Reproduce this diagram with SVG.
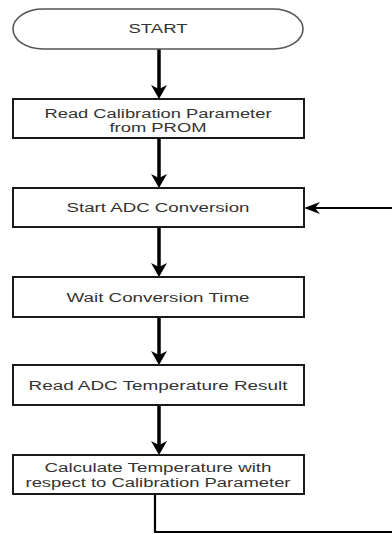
<svg xmlns="http://www.w3.org/2000/svg" width="392" height="534" viewBox="0 0 392 534">
<style>
.box{fill:#fff;stroke:#1a1a1a;stroke-width:2}
.term{fill:#fff;stroke:#555;stroke-width:1.6}
.t{font-family:"Liberation Sans",Arial,sans-serif;font-size:12px;fill:#333;text-anchor:middle}
.c{fill:none;stroke:#000;stroke-width:3.5}
.loop{fill:none;stroke:#000;stroke-width:2.2}
</style>
<defs>
<marker id="ah" markerUnits="userSpaceOnUse" viewBox="0 0 14 16" markerWidth="14" markerHeight="16" refX="8" refY="8" orient="auto">
<path d="M14,8 L0,0 L4,8 L0,16 Z" fill="#000"/>
</marker>
<marker id="ah2" markerUnits="userSpaceOnUse" viewBox="0 0 16 12" markerWidth="16" markerHeight="12" refX="10" refY="6" orient="auto">
<path d="M16,6 L0,0 L5,6 L0,12 Z" fill="#000"/>
</marker>
</defs>
<g id="connectors">
<line class="c" x1="159" y1="49" x2="159" y2="93" marker-end="url(#ah)"/>
<line class="c" x1="159" y1="138" x2="159" y2="182" marker-end="url(#ah)"/>
<line class="c" x1="159" y1="227" x2="159" y2="271" marker-end="url(#ah)"/>
<line class="c" x1="159" y1="317" x2="159" y2="359" marker-end="url(#ah)"/>
<line class="c" x1="159" y1="405" x2="159" y2="449" marker-end="url(#ah)"/>
<path class="loop" d="M155,494 V532 H396 V208 H310" marker-end="url(#ah2)"/>
</g>
<g id="start">
<path class="term" d="M43,9 H273 A30,20 0 0 1 273,49 H43 A30,20 0 0 1 43,9 Z"/>
<text class="t" x="158" y="33" textLength="59" lengthAdjust="spacingAndGlyphs">START</text>
</g>
<g id="readCal">
<rect class="box" x="13" y="99" width="291" height="39"/>
<text class="t" x="158" y="117.5" textLength="227" lengthAdjust="spacingAndGlyphs">Read Calibration Parameter</text>
<text class="t" x="158" y="132" textLength="97" lengthAdjust="spacingAndGlyphs">from PROM</text>
</g>
<g id="startAdc">
<rect class="box" x="13" y="188" width="291" height="39"/>
<text class="t" x="158" y="212" textLength="183" lengthAdjust="spacingAndGlyphs">Start ADC Conversion</text>
</g>
<g id="wait">
<rect class="box" x="13" y="277" width="291" height="40"/>
<text class="t" x="158" y="302" textLength="183" lengthAdjust="spacingAndGlyphs">Wait Conversion Time</text>
</g>
<g id="readAdc">
<rect class="box" x="13" y="365" width="291" height="40"/>
<text class="t" x="158" y="390" textLength="259" lengthAdjust="spacingAndGlyphs">Read ADC Temperature Result</text>
</g>
<g id="calc">
<rect class="box" x="13" y="455" width="291" height="39"/>
<text class="t" x="158" y="472" textLength="227" lengthAdjust="spacingAndGlyphs">Calculate Temperature with</text>
<text class="t" x="158" y="487" textLength="265" lengthAdjust="spacingAndGlyphs">respect to Calibration Parameter</text>
</g>
</svg>
